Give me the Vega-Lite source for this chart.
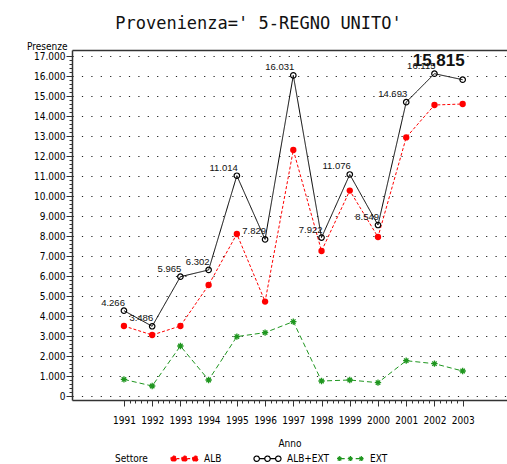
{
  "$schema": "https://vega.github.io/schema/vega-lite/v6.json",
  "width": 435,
  "height": 350,
  "autosize": {"type": "none"},
  "padding": {"left": 72, "top": 50, "right": 0, "bottom": 64},
  "background": "white",
  "title": {
    "text": "Provenienza=' 5-REGNO UNITO'",
    "font": "DejaVu Sans Mono",
    "fontSize": 17,
    "fontWeight": "normal",
    "color": "#111",
    "anchor": "middle",
    "dx": -31,
    "offset": 8
  },
  "data": {
    "values": [
      {"Anno": 1991, "Settore": "ALB", "Presenze": 3500},
      {"Anno": 1992, "Settore": "ALB", "Presenze": 3050},
      {"Anno": 1993, "Settore": "ALB", "Presenze": 3500},
      {"Anno": 1994, "Settore": "ALB", "Presenze": 5550},
      {"Anno": 1995, "Settore": "ALB", "Presenze": 8100},
      {"Anno": 1996, "Settore": "ALB", "Presenze": 4720},
      {"Anno": 1997, "Settore": "ALB", "Presenze": 12300},
      {"Anno": 1998, "Settore": "ALB", "Presenze": 7250},
      {"Anno": 1999, "Settore": "ALB", "Presenze": 10270},
      {"Anno": 2000, "Settore": "ALB", "Presenze": 7950},
      {"Anno": 2001, "Settore": "ALB", "Presenze": 12930},
      {"Anno": 2002, "Settore": "ALB", "Presenze": 14550},
      {"Anno": 2003, "Settore": "ALB", "Presenze": 14600},
      {"Anno": 1991, "Settore": "ALB+EXT", "Presenze": 4266},
      {"Anno": 1992, "Settore": "ALB+EXT", "Presenze": 3486},
      {"Anno": 1993, "Settore": "ALB+EXT", "Presenze": 5965},
      {"Anno": 1994, "Settore": "ALB+EXT", "Presenze": 6302},
      {"Anno": 1995, "Settore": "ALB+EXT", "Presenze": 11014},
      {"Anno": 1996, "Settore": "ALB+EXT", "Presenze": 7829},
      {"Anno": 1997, "Settore": "ALB+EXT", "Presenze": 16031},
      {"Anno": 1998, "Settore": "ALB+EXT", "Presenze": 7922},
      {"Anno": 1999, "Settore": "ALB+EXT", "Presenze": 11076},
      {"Anno": 2000, "Settore": "ALB+EXT", "Presenze": 8549},
      {"Anno": 2001, "Settore": "ALB+EXT", "Presenze": 14693},
      {"Anno": 2002, "Settore": "ALB+EXT", "Presenze": 16115},
      {"Anno": 2003, "Settore": "ALB+EXT", "Presenze": 15815},
      {"Anno": 1991, "Settore": "EXT", "Presenze": 830},
      {"Anno": 1992, "Settore": "EXT", "Presenze": 500},
      {"Anno": 1993, "Settore": "EXT", "Presenze": 2500},
      {"Anno": 1994, "Settore": "EXT", "Presenze": 800},
      {"Anno": 1995, "Settore": "EXT", "Presenze": 2970},
      {"Anno": 1996, "Settore": "EXT", "Presenze": 3170},
      {"Anno": 1997, "Settore": "EXT", "Presenze": 3720},
      {"Anno": 1998, "Settore": "EXT", "Presenze": 750},
      {"Anno": 1999, "Settore": "EXT", "Presenze": 800},
      {"Anno": 2000, "Settore": "EXT", "Presenze": 665},
      {"Anno": 2001, "Settore": "EXT", "Presenze": 1765},
      {"Anno": 2002, "Settore": "EXT", "Presenze": 1615},
      {"Anno": 2003, "Settore": "EXT", "Presenze": 1250}
    ]
  },
  "config": {
    "locale": {"number": {"decimal": ",", "thousands": ".", "grouping": [3], "currency": ["€", ""]}},
    "view": {"stroke": null},
    "axis": {
      "labelFont": "DejaVu Sans Condensed",
      "labelFontSize": 10,
      "labelColor": "#000",
      "titleFont": "DejaVu Sans Condensed",
      "titleFontSize": 10,
      "titleFontWeight": "normal",
      "titleColor": "#000",
      "domainColor": "#333",
      "domainWidth": 1.5,
      "tickColor": "#333",
      "tickWidth": 1
    }
  },
  "layer": [
    {
      "mark": {"type": "point", "opacity": 0},
      "encoding": {
        "x": {
          "field": "Anno", "type": "quantitative",
          "scale": {"domain": [1989.16, 2004.57], "nice": false, "zero": false},
          "axis": {
            "orient": "bottom",
            "values": [1991.2, 1991.4, 1991.6, 1991.8, 1992.2, 1992.4, 1992.6, 1992.8, 1993.2, 1993.4, 1993.6, 1993.8, 1994.2, 1994.4, 1994.6, 1994.8, 1995.2, 1995.4, 1995.6, 1995.8, 1996.2, 1996.4, 1996.6, 1996.8, 1997.2, 1997.4, 1997.6, 1997.8, 1998.2, 1998.4, 1998.6, 1998.8, 1999.2, 1999.4, 1999.6, 1999.8, 2000.2, 2000.4, 2000.6, 2000.8, 2001.2, 2001.4, 2001.6, 2001.8, 2002.2, 2002.4, 2002.6, 2002.8],
            "tickSize": 3, "labels": false, "domain": false, "grid": false, "title": null
          }
        },
        "y": {
          "field": "Presenze", "type": "quantitative",
          "scale": {"domain": [-200, 17300], "nice": false, "zero": false},
          "axis": {
            "orient": "left",
            "values": [200, 400, 600, 800, 1200, 1400, 1600, 1800, 2200, 2400, 2600, 2800, 3200, 3400, 3600, 3800, 4200, 4400, 4600, 4800, 5200, 5400, 5600, 5800, 6200, 6400, 6600, 6800, 7200, 7400, 7600, 7800, 8200, 8400, 8600, 8800, 9200, 9400, 9600, 9800, 10200, 10400, 10600, 10800, 11200, 11400, 11600, 11800, 12200, 12400, 12600, 12800, 13200, 13400, 13600, 13800, 14200, 14400, 14600, 14800, 15200, 15400, 15600, 15800, 16200, 16400, 16600, 16800],
            "tickSize": 3, "labels": false, "domain": false, "grid": false, "title": null
          }
        }
      }
    },
    {
      "mark": {"type": "line", "strokeWidth": 1},
      "encoding": {
        "x": {
          "field": "Anno", "type": "quantitative",
          "axis": {
            "orient": "bottom",
            "values": [1991, 1992, 1993, 1994, 1995, 1996, 1997, 1998, 1999, 2000, 2001, 2002, 2003],
            "labelExpr": "'' + datum.value", "tickSize": 6, "labelPadding": 9, "grid": false,
            "title": "Anno", "titlePadding": 13
          }
        },
        "y": {
          "field": "Presenze", "type": "quantitative",
          "axis": {
            "orient": "left",
            "values": [0, 1000, 2000, 3000, 4000, 5000, 6000, 7000, 8000, 9000, 10000, 11000, 12000, 13000, 14000, 15000, 16000, 17000],
            "labelExpr": "datum.value === 0 ? '0' : floor(datum.value / 1000) + '.000'",
            "tickSize": 6, "labelPadding": 1,
            "grid": true, "gridDash": [1.2, 8.2], "gridColor": "#222", "gridWidth": 1.2,
            "title": "Presenze", "titleAngle": 0, "titleAlign": "right", "titleBaseline": "alphabetic",
            "titleAnchor": "end", "titleX": -5, "titleY": -1
          }
        },
        "color": {
          "field": "Settore", "type": "nominal",
          "scale": {"domain": ["ALB", "ALB+EXT", "EXT"], "range": ["#ff0000", "#000000", "#1f961f"]},
          "legend": {
            "orient": "none", "legendX": 43, "legendY": 394,
            "direction": "horizontal", "columns": 3, "gridAlign": "all",
            "title": "Settore", "titleOrient": "left", "titleAnchor": "middle", "titleBaseline": "top",
            "titleFont": "DejaVu Sans Condensed",
            "titleFontSize": 10, "titleFontWeight": "normal", "titleColor": "#000", "titlePadding": 22,
            "labelFont": "DejaVu Sans Condensed", "labelFontSize": 10, "labelColor": "#000",
            "labelOffset": 5, "columnPadding": 4, "symbolSize": 729, "symbolStrokeWidth": 1,
            "encode": {
              "symbols": {
                "update": {
                  "shape": {"signal": "datum.value === 'EXT' ? 'M-0.8,0L0.8,0M-1,0L-0.6,0M-0.8,-0.2L-0.8,0.2M-0.94,-0.14L-0.66,0.14M-0.94,0.14L-0.66,-0.14M-0.2,0L0.2,0M0,-0.2L0,0.2M-0.14,-0.14L0.14,0.14M-0.14,0.14L0.14,-0.14M0.6,0L1,0M0.8,-0.2L0.8,0.2M0.66,-0.14L0.94,0.14M0.66,0.14L0.94,-0.14' : 'M-0.6,0L-0.2,0M0.2,0L0.6,0M-1,0A0.2,0.2,0,1,0,-0.6,0A0.2,0.2,0,1,0,-1,0ZM-0.2,0A0.2,0.2,0,1,0,0.2,0A0.2,0.2,0,1,0,-0.2,0ZM0.6,0A0.2,0.2,0,1,0,1,0A0.2,0.2,0,1,0,0.6,0Z'"},
                  "fill": {"signal": "datum.value === 'ALB' ? '#ff0000' : 'transparent'"},
                  "stroke": {"signal": "datum.value === 'ALB' ? '#ff0000' : datum.value === 'EXT' ? '#1f961f' : '#000000'"},
                  "strokeDash": {"value": [1, 0]},
                  "size": {"value": 729},
                  "strokeWidth": {"value": 1.2},
                  "opacity": {"value": 1}
                }
              }
            }
          }
        },
        "strokeDash": {
          "field": "Settore", "type": "nominal",
          "scale": {"domain": ["ALB", "ALB+EXT", "EXT"], "range": [[3, 2], [1, 0], [5, 3]]},
          "legend": null
        }
      }
    },
    {
      "transform": [{"filter": "datum.Settore === 'ALB'"}],
      "mark": {"type": "point", "shape": "circle", "filled": true, "size": 40, "color": "#ff0000", "opacity": 1},
      "encoding": {
        "x": {"field": "Anno", "type": "quantitative", "axis": null},
        "y": {"field": "Presenze", "type": "quantitative", "axis": null}
      }
    },
    {
      "transform": [{"filter": "datum.Settore === 'ALB+EXT'"}],
      "mark": {"type": "point", "shape": "circle", "filled": false, "size": 30, "color": "#000000", "strokeWidth": 1.2, "opacity": 1},
      "encoding": {
        "x": {"field": "Anno", "type": "quantitative", "axis": null},
        "y": {"field": "Presenze", "type": "quantitative", "axis": null}
      }
    },
    {
      "transform": [{"filter": "datum.Settore === 'EXT'"}],
      "mark": {"type": "point", "shape": "M-1,0L1,0M0,-1L0,1M-0.7,-0.7L0.7,0.7M-0.7,0.7L0.7,-0.7", "filled": false, "size": 40, "color": "#1f961f", "strokeWidth": 1.3, "opacity": 1},
      "encoding": {
        "x": {"field": "Anno", "type": "quantitative", "axis": null},
        "y": {"field": "Presenze", "type": "quantitative", "axis": null}
      }
    },
    {
      "transform": [{"filter": "datum.Settore === 'ALB+EXT' && datum.Anno < 2003"}],
      "mark": {"type": "text", "font": "Liberation Sans", "fontSize": 9.5, "align": "right", "baseline": "alphabetic", "dx": 1, "dy": -5, "color": "#111"},
      "encoding": {
        "x": {
          "field": "Anno", "type": "quantitative",
          "axis": {"orient": "top", "domain": true, "ticks": false, "labels": false, "grid": false, "title": null}
        },
        "y": {"field": "Presenze", "type": "quantitative", "axis": null},
        "text": {"field": "Presenze", "type": "quantitative", "format": ","}
      }
    },
    {
      "transform": [{"filter": "datum.Settore === 'ALB+EXT' && datum.Anno === 2003"}],
      "mark": {"type": "text", "font": "Liberation Sans", "fontSize": 17, "fontWeight": "bold", "align": "right", "baseline": "alphabetic", "dx": 2, "dy": -14, "color": "#111"},
      "encoding": {
        "x": {"field": "Anno", "type": "quantitative", "axis": null},
        "y": {"field": "Presenze", "type": "quantitative", "axis": null},
        "text": {"field": "Presenze", "type": "quantitative", "format": ","}
      }
    }
  ],
  "resolve": {"axis": {"x": "independent", "y": "independent"}}
}
